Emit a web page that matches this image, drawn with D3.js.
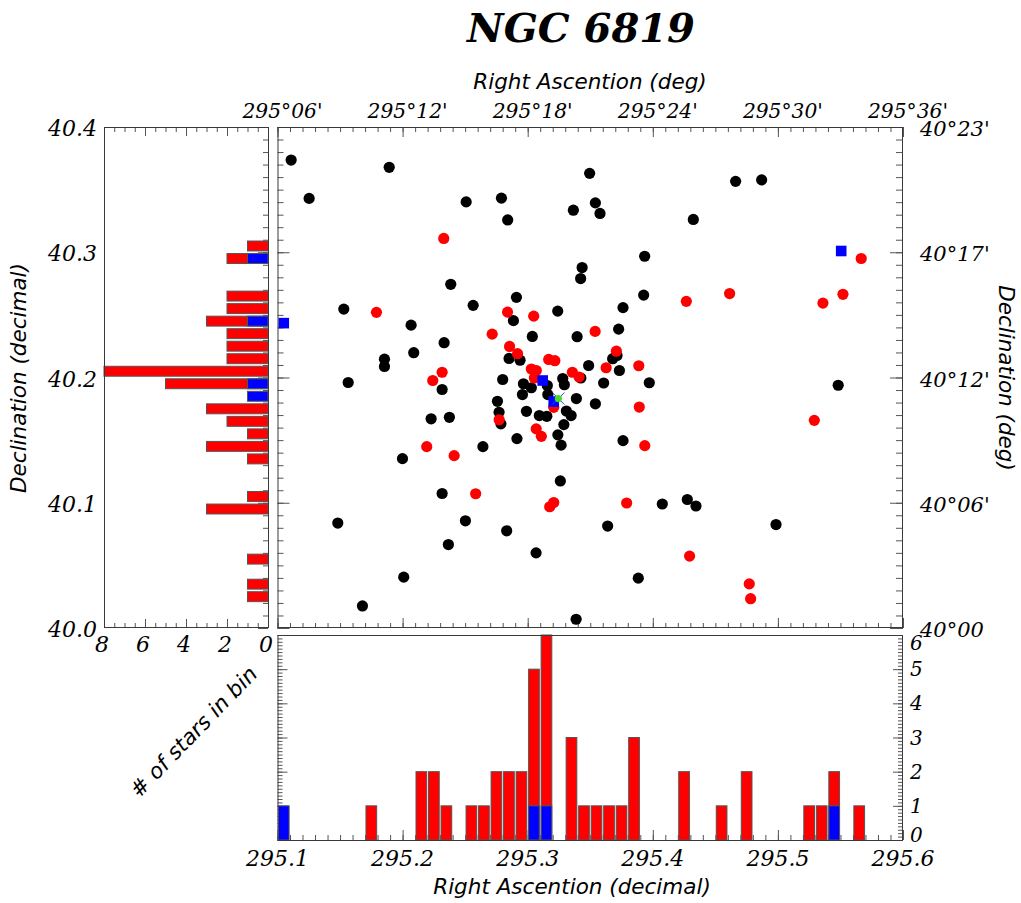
<!DOCTYPE html>
<html>
<head>
<meta charset="utf-8">
<title>NGC 6819</title>
<script src="https://cdn.jsdelivr.net/npm/d3@7"></script>
<style>
  html, body { margin: 0; padding: 0; background: #fff; }
  svg { display: block; }
  .serif { font-family: "DejaVu Serif", serif; font-style: italic; }
  .sans { font-family: "DejaVu Sans", sans-serif; font-style: italic; }
</style>
</head>
<body>
<svg id="chart" width="1021" height="903"></svg>
<script>
// ---- field stars (black) ----
const fieldRA = [
  295.1109, 295.1893, 295.1253, 295.2508, 295.2790, 295.2840, 295.3495, 295.3365, 295.3541, 295.3578,
  295.4662, 295.4870, 295.4324, 295.3435, 295.3423, 295.2385, 295.3935, 295.3927, 295.2910, 295.2564,
  295.1530, 295.3240, 295.3762, 295.2886, 295.2068, 295.3727, 295.3037, 295.3395, 295.2332, 295.2089,
  295.1855, 295.1855, 295.2851, 295.2939, 295.3679, 295.3714, 295.3487, 295.3733, 295.1565, 295.2800,
  295.3280, 295.3425, 295.3607, 295.3972, 295.5482, 295.2966, 295.3029, 295.3157, 295.3293, 295.2316,
  295.2958, 295.3161, 295.3389, 295.3541, 295.2758, 295.2771, 295.2786, 295.2990, 295.3093, 295.3153,
  295.3309, 295.3347, 295.3289, 295.3241, 295.3267, 295.2228, 295.2374, 295.2914, 295.3762, 295.2642,
  295.1999, 295.3261, 295.2316, 295.4076, 295.4276, 295.4345, 295.1482, 295.2502, 295.2832, 295.3639,
  295.4985, 295.2366, 295.3067, 295.2009, 295.3884, 295.1679, 295.3387
];
const fieldDec = [
  40.3736, 40.3678, 40.3430, 40.3402, 40.3432, 40.3258, 40.3630, 40.3336, 40.3394, 40.3310,
  40.3566, 40.3578, 40.3262, 40.2878, 40.2790, 40.2744, 40.2968, 40.2658, 40.2640, 40.2576,
  40.2546, 40.2530, 40.2558, 40.2454, 40.2418, 40.2386, 40.2328, 40.2326, 40.2278, 40.2198,
  40.2146, 40.2088, 40.2152, 40.2138, 40.2150, 40.2176, 40.2096, 40.2056, 40.1960, 40.1984,
  40.1992, 40.1996, 40.1956, 40.1958, 40.1938, 40.1950, 40.1918, 40.1936, 40.1942, 40.1904,
  40.1864, 40.1864, 40.1832, 40.1790, 40.1810, 40.1722, 40.1630, 40.1730, 40.1696, 40.1690,
  40.1732, 40.1696, 40.1624, 40.1542, 40.1460, 40.1670, 40.1682, 40.1512, 40.1496, 40.1448,
  40.1352, 40.1174, 40.1074, 40.0990, 40.1026, 40.0974, 40.0838, 40.0856, 40.0776, 40.0814,
  40.0826, 40.0666, 40.0600, 40.0406, 40.0398, 40.0176, 40.0070
];

// ---- cluster members (red) ----
const memberRA = [
  295.2329, 295.5666, 295.4268, 295.4614, 295.5360, 295.5520, 295.1791, 295.2839, 295.3048, 295.3539,
  295.2716, 295.2855, 295.2919, 295.3709, 295.3168, 295.3217, 295.3888, 295.3627, 295.3029, 295.3069,
  295.3053, 295.2316, 295.3357, 295.3411, 295.2241, 295.3208, 295.3892, 295.2772, 295.3068, 295.3109,
  295.3936, 295.5291, 295.2193, 295.2412, 295.2584, 295.3208, 295.3176, 295.3791, 295.4294, 295.4771,
  295.4782
];
const memberDec = [
  40.3110, 40.2950, 40.2608, 40.2670, 40.2594, 40.2664, 40.2520, 40.2522, 40.2490, 40.2368,
  40.2346, 40.2248, 40.2190, 40.2210, 40.2144, 40.2134, 40.2094, 40.2078, 40.2068, 40.2056,
  40.1996, 40.2042, 40.2042, 40.2004, 40.1976, 40.1762, 40.1764, 40.1662, 40.1590, 40.1530,
  40.1456, 40.1658, 40.1448, 40.1376, 40.1072, 40.1002, 40.0968, 40.0998, 40.0574, 40.0352,
  40.0234
];

// ---- special members (blue squares) ----
const specialRA = [295.1050, 295.5506, 295.3120, 295.3208];
const specialDec = [40.2434, 40.3010, 40.1976, 40.1808];

// ---- cluster centre ----
const centreRA = 295.3245;
const centreDec = 40.1832;

// ---- histogram along RA (bin left edges, 0.01 deg bins) ----
const raBinWidth = 0.01;
const raBinStart = [295.10, 295.17, 295.21, 295.22, 295.23, 295.25, 295.26, 295.27, 295.28, 295.29,
                    295.30, 295.31, 295.33, 295.34, 295.35, 295.36, 295.37, 295.38, 295.42, 295.45,
                    295.47, 295.52, 295.53, 295.54, 295.56];
const raTotal = [1, 1, 2, 2, 1, 1, 1, 2, 2, 2, 5, 6, 3, 1, 1, 1, 1, 3, 2, 1, 2, 1, 1, 2, 1];
const raBlue  = [1, 0, 0, 0, 0, 0, 0, 0, 0, 0, 1, 1, 0, 0, 0, 0, 0, 0, 0, 0, 0, 0, 0, 1, 0];

// ---- histogram along Dec (bin lower edges, 0.01 deg bins) ----
const decBinWidth = 0.01;
const decBinStart = [40.30, 40.29, 40.26, 40.25, 40.24, 40.23, 40.22, 40.21, 40.20, 40.19,
                     40.18, 40.17, 40.16, 40.15, 40.14, 40.13, 40.10, 40.09, 40.05, 40.03, 40.02];
const decTotal = [1, 2, 2, 2, 3, 2, 2, 2, 8, 5, 1, 3, 2, 1, 3, 1, 1, 3, 1, 1, 1];
const decBlue  = [0, 1, 0, 0, 1, 0, 0, 0, 0, 1, 1, 0, 0, 0, 0, 0, 0, 0, 0, 0, 0];

// ---- tick labels ----
const raMajor = [295.1, 295.2, 295.3, 295.4, 295.5, 295.6];
const raTopLabels = ["295°06'", "295°12'", "295°18'", "295°24'", "295°30'", "295°36'"];
const raBottomLabels = ["295.1", "295.2", "295.3", "295.4", "295.5", "295.6"];
const decMajor = [40.0, 40.1, 40.2, 40.3, 40.4];
const decLeftLabels = ["40.0", "40.1", "40.2", "40.3", "40.4"];
const decRightLabels = ["40°00", "40°06'", "40°12'", "40°17'", "40°23'"];
const countLeftMajor = [8, 6, 4, 2, 0];
const countBottomMajor = [0, 1, 2, 3, 4, 5, 6];

// ---- layout ----
const main = { x0: 277.5, x1: 903, y0: 127, y1: 628 };
const histB = { y0: 635, y1: 840 };
const histL = { x0: 104, x1: 268 };

const svg = d3.select("#chart");
svg.append("rect").attr("width", 1021).attr("height", 903).attr("fill", "#fff");

const x = d3.scaleLinear().domain([295.1, 295.6]).range([main.x0, main.x1]);
const y = d3.scaleLinear().domain([40.0, 40.4]).range([main.y1, main.y0]);
const yCount = d3.scaleLinear().domain([0, 6]).range([histB.y1, histB.y0]);
const xCount = d3.scaleLinear().domain([0, 8]).range([histL.x1, histL.x0]);

const raMinor = d3.range(0, 51).map(i => 295.1 + i * 0.01);
const decMinor = d3.range(0, 41).map(i => 40.0 + i * 0.01);
const countMinorL = d3.range(0, 17).map(i => i * 0.5);
const countMinorB = d3.range(0, 61).map(i => i * 0.1);

const TICK = "#555";
const FRAME = "#3a3a3a";

function tickAxis(g, axis) {
  g.call(axis);
  g.select(".domain").remove();
  g.selectAll(".tick line").attr("stroke", TICK);
  g.selectAll(".tick text").remove();
}

// ================= main scatter panel =================
const gMain = svg.append("g");

// minor / major ticks on all four sides, pointing inward
tickAxis(gMain.append("g").attr("transform", `translate(0,${main.y0})`),
  d3.axisTop(x).tickValues(raMinor).tickSize(-5));
tickAxis(gMain.append("g").attr("transform", `translate(0,${main.y0})`),
  d3.axisTop(x).tickValues(raMajor).tickSize(-10));
tickAxis(gMain.append("g").attr("transform", `translate(0,${main.y1})`),
  d3.axisBottom(x).tickValues(raMinor).tickSize(-5));
tickAxis(gMain.append("g").attr("transform", `translate(0,${main.y1})`),
  d3.axisBottom(x).tickValues(raMajor).tickSize(-10));
tickAxis(gMain.append("g").attr("transform", `translate(${main.x0},0)`),
  d3.axisLeft(y).tickValues(decMinor).tickSize(-6));
tickAxis(gMain.append("g").attr("transform", `translate(${main.x0},0)`),
  d3.axisLeft(y).tickValues(decMajor).tickSize(-12));
tickAxis(gMain.append("g").attr("transform", `translate(${main.x1},0)`),
  d3.axisRight(y).tickValues(decMinor).tickSize(-7));
tickAxis(gMain.append("g").attr("transform", `translate(${main.x1},0)`),
  d3.axisRight(y).tickValues(decMajor).tickSize(-13));

const gPts = gMain.append("g");
gPts.selectAll("circle.field").data(fieldRA.map((r, i) => [r, fieldDec[i]]))
  .join("circle").attr("class", "field")
  .attr("cx", d => x(d[0])).attr("cy", d => y(d[1])).attr("r", 5.6)
  .attr("fill", "#000");
gPts.selectAll("circle.member").data(memberRA.map((r, i) => [r, memberDec[i]]))
  .join("circle").attr("class", "member")
  .attr("cx", d => x(d[0])).attr("cy", d => y(d[1])).attr("r", 5.6)
  .attr("fill", "#ff0000");
const sq = 10.6;
gPts.selectAll("rect.special").data(specialRA.map((r, i) => [r, specialDec[i]]))
  .join("rect").attr("class", "special")
  .attr("x", d => x(d[0]) - sq / 2).attr("y", d => y(d[1]) - sq / 2)
  .attr("width", sq).attr("height", sq)
  .attr("fill", "#0000ff");

// cluster centre: blue cross with a green dot
const cx = x(centreRA), cy = y(centreDec);
gPts.append("path")
  .attr("d", `M${cx - 6},${cy + 6}L${cx + 6},${cy - 6}M${cx - 6},${cy - 6}L${cx + 6},${cy + 6}`)
  .attr("stroke", "#2040ff").attr("stroke-width", 1);
gPts.append("circle").attr("cx", cx).attr("cy", cy).attr("r", 3.6).attr("fill", "#44dd22");

gMain.append("rect")
  .attr("x", main.x0 + 0.5).attr("y", main.y0 + 0.5)
  .attr("width", main.x1 - main.x0 - 1).attr("height", main.y1 - main.y0 - 1)
  .attr("fill", "none").attr("stroke", FRAME);

// top labels (sexagesimal RA)
gMain.selectAll("text.ratop").data(raMajor).join("text")
  .attr("class", "serif ratop")
  .attr("x", (d) => x(d) + 5).attr("y", 118)
  .attr("text-anchor", "middle").attr("font-size", 20.5)
  .attr("textLength", 80).attr("lengthAdjust", "spacingAndGlyphs")
  .text((d, i) => raTopLabels[i]);

// right labels (sexagesimal Dec)
gMain.selectAll("text.decright").data(decMajor).join("text")
  .attr("class", "serif decright")
  .attr("x", 920).attr("y", d => y(d) + 9)
  .attr("text-anchor", "start").attr("font-size", 21)
  .text((d, i) => decRightLabels[i]);

svg.append("text").attr("class", "sans")
  .attr("x", 590).attr("y", 89).attr("text-anchor", "middle").attr("font-size", 21.5)
  .text("Right Ascention (deg)");

svg.append("text").attr("class", "sans")
  .attr("transform", "translate(999,378) rotate(90)")
  .attr("text-anchor", "middle").attr("font-size", 21.5)
  .text("Declination (deg)");

// ================= bottom histogram (RA) =================
const gB = svg.append("g");
tickAxis(gB.append("g").attr("transform", `translate(0,${histB.y1})`),
  d3.axisBottom(x).tickValues(raMinor).tickSize(-5));
tickAxis(gB.append("g").attr("transform", `translate(0,${histB.y1})`),
  d3.axisBottom(x).tickValues(raMajor).tickSize(-10));
tickAxis(gB.append("g").attr("transform", `translate(${main.x0},0)`),
  d3.axisLeft(yCount).tickValues(countMinorB).tickSize(-5));
tickAxis(gB.append("g").attr("transform", `translate(${main.x0},0)`),
  d3.axisLeft(yCount).tickValues(countBottomMajor).tickSize(-10));
tickAxis(gB.append("g").attr("transform", `translate(${main.x1},0)`),
  d3.axisRight(yCount).tickValues(countMinorB).tickSize(-5));
tickAxis(gB.append("g").attr("transform", `translate(${main.x1},0)`),
  d3.axisRight(yCount).tickValues(countBottomMajor).tickSize(-10));

const raBins = raBinStart.map((s, i) => ({ s, total: raTotal[i], blue: raBlue[i] }));
const barInset = 0.9;
gB.selectAll("rect.rared").data(raBins.filter(d => d.total > d.blue)).join("rect")
  .attr("class", "rared")
  .attr("x", d => x(d.s) + barInset).attr("width", d => x(d.s + raBinWidth) - x(d.s) - 2 * barInset)
  .attr("y", d => yCount(d.total)).attr("height", d => yCount(0) - yCount(d.total))
  .attr("fill", "#ff0000").attr("stroke", "#555").attr("stroke-width", 1);
gB.selectAll("rect.rablue").data(raBins.filter(d => d.blue > 0)).join("rect")
  .attr("class", "rablue")
  .attr("x", d => x(d.s) + barInset).attr("width", d => x(d.s + raBinWidth) - x(d.s) - 2 * barInset)
  .attr("y", d => yCount(d.blue)).attr("height", d => yCount(0) - yCount(d.blue))
  .attr("fill", "#0000ff").attr("stroke", "#555").attr("stroke-width", 1);

gB.append("rect")
  .attr("x", main.x0 + 0.5).attr("y", histB.y0 + 0.5)
  .attr("width", main.x1 - main.x0 - 1).attr("height", histB.y1 - histB.y0)
  .attr("fill", "none").attr("stroke", FRAME);

gB.selectAll("text.rabot").data(raMajor).join("text")
  .attr("class", "serif rabot")
  .attr("x", d => x(d)).attr("y", 866)
  .attr("text-anchor", "middle").attr("font-size", 22)
  .text((d, i) => raBottomLabels[i]);

// count labels on the right, kept inside the panel's height
gB.selectAll("text.cntr").data(countBottomMajor).join("text")
  .attr("class", "serif cntr")
  .attr("x", 910)
  .attr("y", d => Math.min(Math.max(yCount(d) + 7, histB.y0 + 15), histB.y1 + 2))
  .attr("text-anchor", "start").attr("font-size", 20)
  .text(d => d);

svg.append("text").attr("class", "sans")
  .attr("x", 572).attr("y", 894).attr("text-anchor", "middle").attr("font-size", 21.5)
  .text("Right Ascention (decimal)");

svg.append("text").attr("class", "sans")
  .attr("transform", "translate(199,737) rotate(-46)")
  .attr("text-anchor", "middle").attr("font-size", 21.5)
  .text("# of stars in bin");

// ================= left histogram (Dec) =================
const gL = svg.append("g");
tickAxis(gL.append("g").attr("transform", `translate(0,${main.y1})`),
  d3.axisBottom(xCount).tickValues(countMinorL).tickSize(-5));
tickAxis(gL.append("g").attr("transform", `translate(0,${main.y1})`),
  d3.axisBottom(xCount).tickValues(countLeftMajor).tickSize(-9));
tickAxis(gL.append("g").attr("transform", `translate(0,${main.y0})`),
  d3.axisTop(xCount).tickValues(countMinorL).tickSize(-5));
tickAxis(gL.append("g").attr("transform", `translate(0,${main.y0})`),
  d3.axisTop(xCount).tickValues(countLeftMajor).tickSize(-9));
tickAxis(gL.append("g").attr("transform", `translate(${histL.x1},0)`),
  d3.axisRight(y).tickValues(decMinor).tickSize(-5));
tickAxis(gL.append("g").attr("transform", `translate(${histL.x1},0)`),
  d3.axisRight(y).tickValues(decMajor).tickSize(-10));

const decBins = decBinStart.map((s, i) => ({ s, total: decTotal[i], blue: decBlue[i] }));
const decInset = 1.3;
gL.selectAll("rect.decred").data(decBins.filter(d => d.total > d.blue)).join("rect")
  .attr("class", "decred")
  .attr("y", d => y(d.s + decBinWidth) + decInset).attr("height", d => y(d.s) - y(d.s + decBinWidth) - 2 * decInset)
  .attr("x", d => xCount(d.total)).attr("width", d => xCount(0) - xCount(d.total))
  .attr("fill", "#ff0000").attr("stroke", "#555").attr("stroke-width", 1);
gL.selectAll("rect.decblue").data(decBins.filter(d => d.blue > 0)).join("rect")
  .attr("class", "decblue")
  .attr("y", d => y(d.s + decBinWidth) + decInset).attr("height", d => y(d.s) - y(d.s + decBinWidth) - 2 * decInset)
  .attr("x", d => xCount(d.blue)).attr("width", d => xCount(0) - xCount(d.blue))
  .attr("fill", "#0000ff").attr("stroke", "#555").attr("stroke-width", 1);

gL.append("rect")
  .attr("x", histL.x0 + 0.5).attr("y", main.y0 + 0.5)
  .attr("width", histL.x1 - histL.x0).attr("height", main.y1 - main.y0 - 1)
  .attr("fill", "none").attr("stroke", FRAME);

gL.selectAll("text.decleft").data(decMajor).join("text")
  .attr("class", "serif decleft")
  .attr("x", 97).attr("y", d => y(d) + 9)
  .attr("text-anchor", "end").attr("font-size", 22)
  .text((d, i) => decLeftLabels[i]);

gL.selectAll("text.cntl").data(countLeftMajor).join("text")
  .attr("class", "serif cntl")
  .attr("x", d => xCount(d) - 2).attr("y", 652)
  .attr("text-anchor", "middle").attr("font-size", 22)
  .text(d => d);

svg.append("text").attr("class", "sans")
  .attr("transform", "translate(26,378) rotate(-90)")
  .attr("text-anchor", "middle").attr("font-size", 21.5)
  .text("Declination (decimal)");

// ================= title =================
svg.append("text").attr("class", "serif")
  .attr("x", 581).attr("y", 42).attr("text-anchor", "middle")
  .attr("font-size", 40).attr("font-weight", "bold")
  .text("NGC 6819");
</script>
</body>
</html>
